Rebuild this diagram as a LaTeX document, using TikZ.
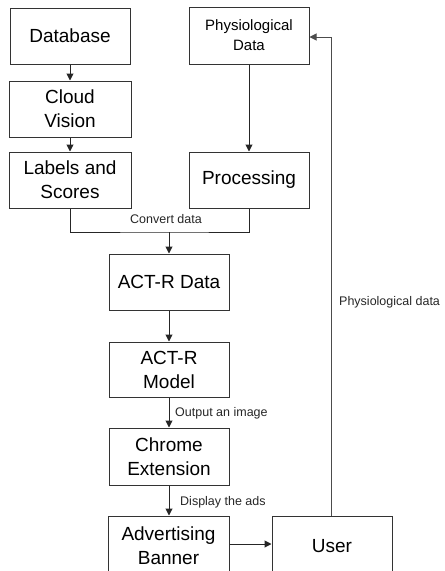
\documentclass[tikz,border=0pt]{standalone}
\usepackage{fontspec}
\setmainfont{Liberation Sans}
\usetikzlibrary{arrows.meta}
\tikzset{
  box/.style={draw=black!80, line width=1pt, minimum width=120pt, minimum height=56pt, align=center, inner sep=2pt, font=\fontsize{19}{24}\selectfont},
  conn/.style={draw=black!85, line width=1pt},
  arr/.style={conn, -{Triangle[length=7pt,width=7pt]}},
  lbl/.style={font=\fontsize{12.5}{15}\selectfont, inner sep=0pt, text=black!85}
}
\begin{document}
\begin{tikzpicture}[x=1pt,y=-1pt]
\clip (0,0) rectangle (445,571);
\useasboundingbox (0,0) rectangle (445,571);
\node[box] (db) at (70,36) {Database};
\node[box, minimum width=122pt] (cv) at (70,109) {Cloud\\Vision};
\node[box, minimum width=122pt] (ls) at (70,180) {Labels and\\Scores};
\node[box, minimum height=57pt, font=\fontsize{15}{20}\selectfont] (pd) at (249,35.5) {Physiological\\Data};
\node[box] (pr) at (249,180) {Processing};
\node[box] (ad) at (169,282) {ACT-R Data};
\node[box, minimum height=55pt] (am) at (169,369.5) {ACT-R\\Model};
\node[box, minimum height=57pt] (ce) at (169,456.5) {Chrome\\Extension};
\node[box, minimum width=121pt, minimum height=60pt] (ab) at (168.5,546) {Advertising\\Banner};
\node[box, minimum height=60pt] (us) at (332,546) {User};
\coordinate (mg) at (169,232);
\draw[arr] (db) -- (cv);
\draw[arr] (cv) -- (ls);
\draw[arr] (pd) -- (pr);
\draw[conn] (ls.south) |- (mg) -| (pr.south);
\draw[arr] (mg) -- (ad.north);
\draw[arr] (ad) -- (am);
\draw[arr] (am) -- (ce);
\draw[arr] (ce.south) -- (ce.south |- ab.north);
\draw[arr] (ab.east |- 0,544) -- (us.west |- 0,544);
\draw[arr, draw=black!70] (331,516) -- (331,37) -- (pd.east |- 0,37);
\node[lbl] (l1) at (166,219) {Convert data};
\node[lbl, anchor=west] (l2) at (339,302) {Physiological data};
\node[lbl, anchor=west] (l3) at (175,413) {Output an image};
\node[lbl, anchor=west] (l4) at (180,502) {Display the ads};
\end{tikzpicture}
\end{document}
